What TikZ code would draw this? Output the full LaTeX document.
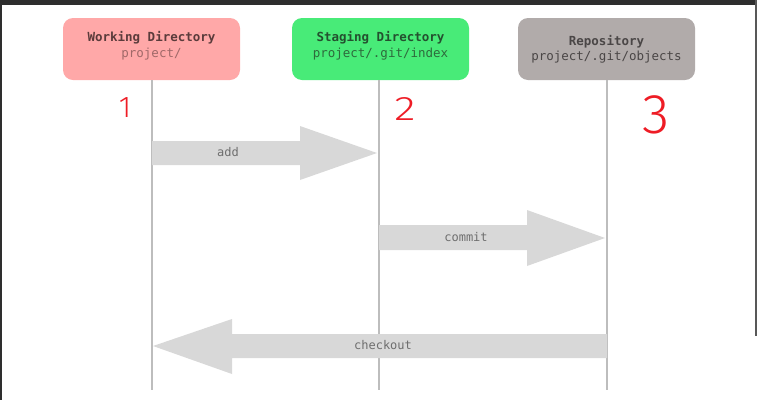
\documentclass[tikz,border=0pt]{standalone}
\usepackage{fontspec}
\newfontfamily\monofont{DejaVu Sans Mono}
\newfontfamily\handfont{Fira Sans Light}
\definecolor{wdfill}{HTML}{FFA8A8}
\definecolor{sdfill}{HTML}{48EB78}
\definecolor{rpfill}{HTML}{B1ABAA}
\definecolor{wdtext}{HTML}{5A3B3B}
\definecolor{wdsub}{HTML}{A06868}
\definecolor{sdtext}{HTML}{24502F}
\definecolor{sdsub}{HTML}{2E6A3C}
\definecolor{rptext}{HTML}{4A4646}
\definecolor{arrowfill}{HTML}{D8D8D8}
\definecolor{arrowtext}{HTML}{6E6E6E}
\definecolor{lifeline}{HTML}{BDBDBD}
\definecolor{handred}{HTML}{EE1C25}
\definecolor{frame}{HTML}{2E2E2E}
\tikzset{
  box/.style={rounded corners=10pt, minimum width=177pt, minimum height=62pt, inner sep=0pt},
  title/.style={font=\monofont\bfseries\fontsize{12.5}{14}\selectfont, inner sep=0pt},
  sub/.style={font=\monofont\fontsize{12.5}{14}\selectfont, inner sep=0pt},
  life/.style={draw=lifeline, line width=1.5pt},
  fat/.style={fill=arrowfill},
  arrlabel/.style={font=\monofont\fontsize{12}{13}\selectfont, text=arrowtext, inner sep=0pt},
  hand/.style={text=handred, inner sep=0pt}
}
\begin{document}
\begin{tikzpicture}[x=1pt,y=-1pt]
\useasboundingbox (0,0) rectangle (757,400);
% screenshot frame
\fill[frame] (0,0) rectangle (757,4.5);
\fill[frame] (0,0) rectangle (1.5,400);
\fill[frame!80] (754.5,0) rectangle (757,336);

% boxes
\node[box, fill=wdfill] (wd) at (151.5,49) {};
\node[box, fill=sdfill] (sd) at (380.5,49) {};
\node[box, fill=rpfill] (rp) at (606.5,49) {};
\node[title, text=wdtext] (wdt) at (151.5,38) {Working Directory};
\node[sub, text=wdsub] (wds) at (151.5,54) {project/};
\node[title, text=sdtext] (sdt) at (380.5,38) {Staging Directory};
\node[sub, text=sdsub] (sds) at (380.5,54) {project/.git/index};
\node[title, text=rptext] (rpt) at (606.5,42) {Repository};
\node[sub, text=rptext] (rps) at (606.5,57) {project/.git/objects};

% lifelines
\coordinate (wdend) at (152,390);
\coordinate (sdend) at (379,390);
\coordinate (rpend) at (607,390);
\draw[life] (wd.south -| wdend) -- (wdend);
\draw[life] (sd.south -| sdend) -- (sdend);
\draw[life] (rp.south -| rpend) -- (rpend);

% add
\fill[fat] (152,141) -- (300,141) -- (300,126) -- (377,153) -- (300,180) -- (300,165) -- (152,165) -- cycle;
\node[arrlabel] (addl) at (228,152) {add};
% commit
\fill[fat] (379,225) -- (527,225) -- (527,210) -- (605,238) -- (527,266) -- (527,250) -- (379,250) -- cycle;
\node[arrlabel] (coml) at (466,237) {commit};
% checkout
\fill[fat] (607,334) -- (232,334) -- (232,319) -- (153,346) -- (232,374) -- (232,358) -- (607,358) -- cycle;
\node[arrlabel] (chkl) at (383,345) {checkout};

% handwritten numbers
\node[hand, font=\handfont\fontsize{30}{30}\selectfont] (n1) at (125,108) {1};
\node[hand, font=\handfont\fontsize{34}{34}\selectfont, xscale=1.3] (n2) at (405,109) {2};
\node[hand, font=\handfont\fontsize{56}{56}\selectfont] (n3) at (656,115) {3};
\end{tikzpicture}
\end{document}
